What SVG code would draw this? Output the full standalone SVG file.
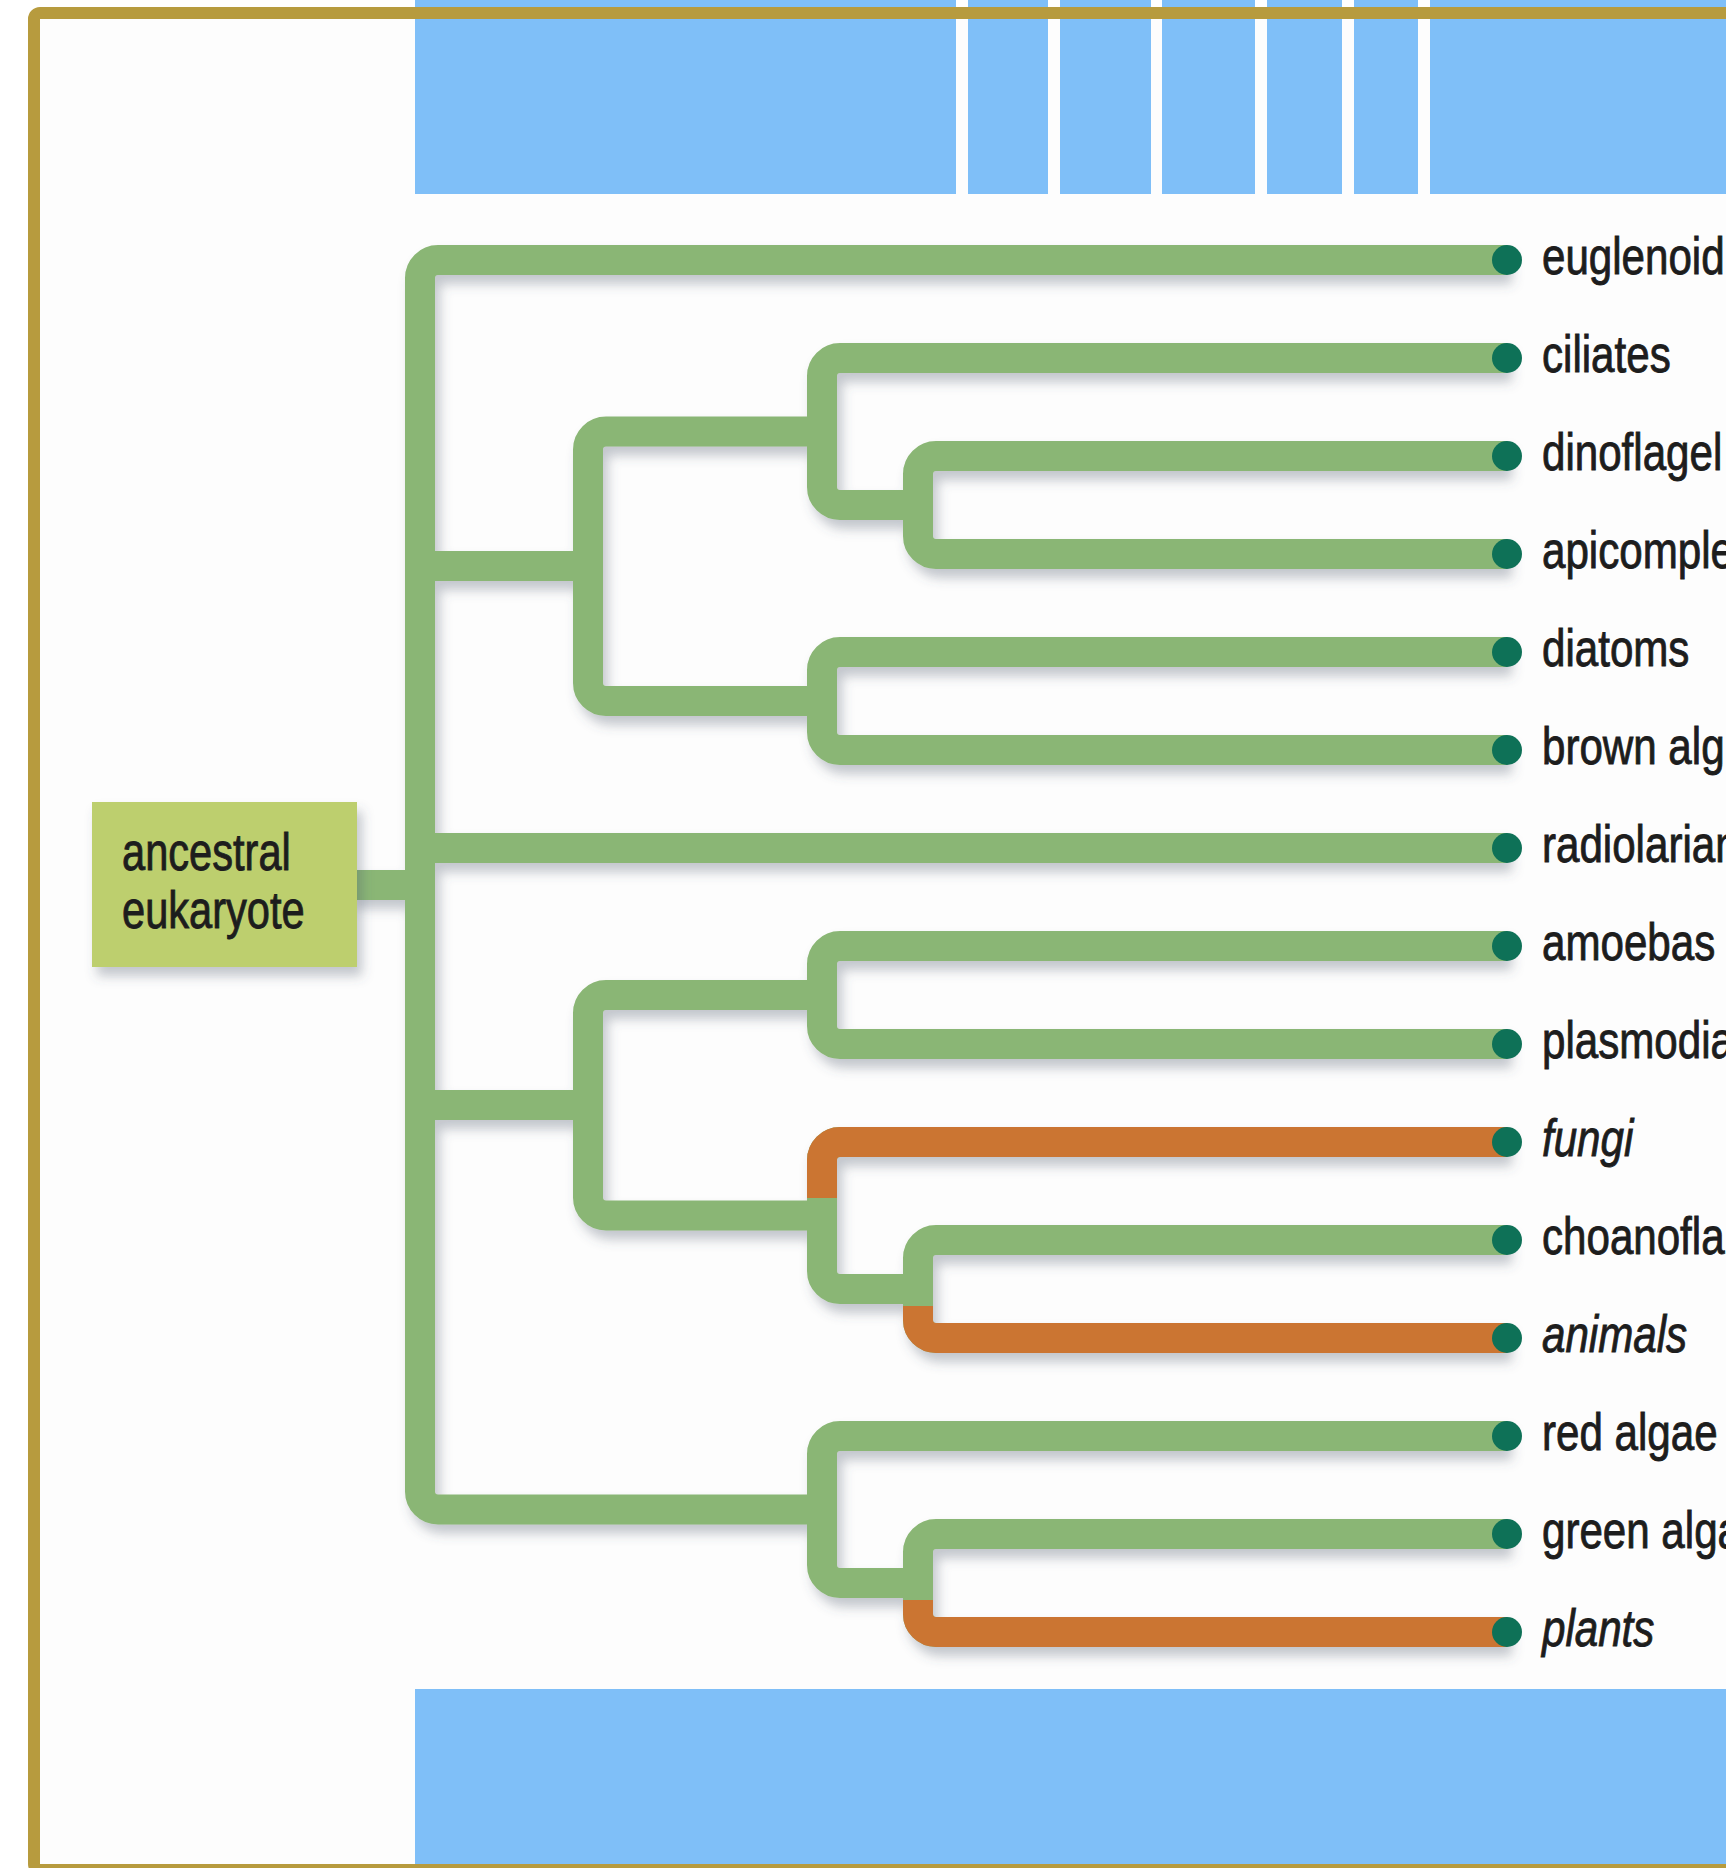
<svg xmlns="http://www.w3.org/2000/svg" width="1726" height="1868" viewBox="0 0 1726 1868">
<defs>
<filter id="sh" x="-10%" y="-10%" width="130%" height="130%">
<feDropShadow dx="5" dy="9" stdDeviation="6" flood-color="#4a5468" flood-opacity="0.33"/>
</filter>
<style>
.br{fill:none;stroke:#8AB674;stroke-width:30;stroke-linejoin:round}
.or{fill:none;stroke:#CB7431;stroke-width:30}
.dot{fill:#0E7157}
.lbl{font-family:"Liberation Sans",Arial,sans-serif;font-size:52px;fill:#1d1d1d;stroke:#1d1d1d;stroke-width:0.9px}
.it{font-style:italic}
.blue{fill:#7FBFF8}
</style>
</defs>
<rect x="0" y="0" width="1726" height="1868" fill="#ffffff"/>
<rect x="40" y="19" width="1700" height="1845" fill="#fdfdfd"/>

<g id="connectors" filter="url(#sh)">
<path class="br" d="M350,885 H420"/>
<path class="br" d="M1507,260 H438 A18,18 0 0 0 420,278 V1491.5 A18,18 0 0 0 438,1509.5 H822"/>
<path class="br" d="M420,848 H1507"/>
<path class="br" d="M420,566 H588"/>
<path class="br" d="M822,431.5 H606 A18,18 0 0 0 588,449.5 V683 A18,18 0 0 0 606,701 H822"/>
<path class="br" d="M1507,358 H840 A18,18 0 0 0 822,376 V487 A18,18 0 0 0 840,505 H918"/>
<path class="br" d="M1507,456 H936 A18,18 0 0 0 918,474 V536 A18,18 0 0 0 936,554 H1507"/>
<path class="br" d="M1507,652 H840 A18,18 0 0 0 822,670 V732 A18,18 0 0 0 840,750 H1507"/>
<path class="br" d="M420,1105 H588"/>
<path class="br" d="M822,995 H606 A18,18 0 0 0 588,1013 V1197.5 A18,18 0 0 0 606,1215.5 H822"/>
<path class="br" d="M1507,946 H840 A18,18 0 0 0 822,964 V1026 A18,18 0 0 0 840,1044 H1507"/>
<path class="br" d="M1507,1142 H840 A18,18 0 0 0 822,1160 V1271 A18,18 0 0 0 840,1289 H918"/>
<path class="br" d="M1507,1240 H936 A18,18 0 0 0 918,1258 V1320 A18,18 0 0 0 936,1338 H1507"/>
<path class="br" d="M1507,1436 H840 A18,18 0 0 0 822,1454 V1565 A18,18 0 0 0 840,1583 H918"/>
<path class="br" d="M1507,1534 H936 A18,18 0 0 0 918,1552 V1614 A18,18 0 0 0 936,1632 H1507"/>
<path class="or" d="M1507,1142 H840 A18,18 0 0 0 822,1160 V1198"/>
<path class="or" d="M918,1306 V1320 A18,18 0 0 0 936,1338 H1507"/>
<path class="or" d="M918,1600 V1614 A18,18 0 0 0 936,1632 H1507"/>
</g>

<g id="node-root" filter="url(#sh)">
<rect x="92" y="802" width="265" height="165" fill="#BDCF6E"/>
</g>
<g id="node-root-label">
<text class="lbl" transform="translate(122,870) scale(0.8,1)">ancestral</text>
<text class="lbl" transform="translate(122,928) scale(0.8,1)">eukaryote</text>
</g>

<g id="leaf-euglenoids"><circle class="dot" cx="1507" cy="260" r="15"/><text class="lbl" transform="translate(1542,274) scale(0.81,1)">euglenoid</text></g>
<g id="leaf-ciliates"><circle class="dot" cx="1507" cy="358" r="15"/><text class="lbl" transform="translate(1542,372) scale(0.81,1)">ciliates</text></g>
<g id="leaf-dinoflagellates"><circle class="dot" cx="1507" cy="456" r="15"/><text class="lbl" transform="translate(1542,470) scale(0.81,1)">dinoflagel</text></g>
<g id="leaf-apicomplexans"><circle class="dot" cx="1507" cy="554" r="15"/><text class="lbl" transform="translate(1542,568) scale(0.81,1)">apicomple</text></g>
<g id="leaf-diatoms"><circle class="dot" cx="1507" cy="652" r="15"/><text class="lbl" transform="translate(1542,666) scale(0.81,1)">diatoms</text></g>
<g id="leaf-brown-algae"><circle class="dot" cx="1507" cy="750" r="15"/><text class="lbl" transform="translate(1542,764) scale(0.81,1)">brown alg</text></g>
<g id="leaf-radiolarians"><circle class="dot" cx="1507" cy="848" r="15"/><text class="lbl" transform="translate(1542,862) scale(0.81,1)">radiolarian</text></g>
<g id="leaf-amoebas"><circle class="dot" cx="1507" cy="946" r="15"/><text class="lbl" transform="translate(1542,960) scale(0.81,1)">amoebas</text></g>
<g id="leaf-plasmodial"><circle class="dot" cx="1507" cy="1044" r="15"/><text class="lbl" transform="translate(1542,1058) scale(0.81,1)">plasmodia</text></g>
<g id="leaf-fungi"><circle class="dot" cx="1507" cy="1142" r="15"/><text class="lbl it" transform="translate(1542,1156) scale(0.81,1)">fungi</text></g>
<g id="leaf-choanoflagellates"><circle class="dot" cx="1507" cy="1240" r="15"/><text class="lbl" transform="translate(1542,1254) scale(0.81,1)">choanofla</text></g>
<g id="leaf-animals"><circle class="dot" cx="1507" cy="1338" r="15"/><text class="lbl it" transform="translate(1542,1352) scale(0.81,1)">animals</text></g>
<g id="leaf-red-algae"><circle class="dot" cx="1507" cy="1436" r="15"/><text class="lbl" transform="translate(1542,1450) scale(0.81,1)">red algae</text></g>
<g id="leaf-green-algae"><circle class="dot" cx="1507" cy="1534" r="15"/><text class="lbl" transform="translate(1542,1548) scale(0.81,1)">green alga</text></g>
<g id="leaf-plants"><circle class="dot" cx="1507" cy="1632" r="15"/><text class="lbl it" transform="translate(1542,1646) scale(0.81,1)">plants</text></g>

<g id="redactions">
<rect class="blue" x="415" y="0" width="541" height="194"/>
<rect class="blue" x="968" y="0" width="80" height="194"/>
<rect class="blue" x="1060" y="0" width="91" height="194"/>
<rect class="blue" x="1162" y="0" width="93" height="194"/>
<rect class="blue" x="1267" y="0" width="75" height="194"/>
<rect class="blue" x="1354" y="0" width="64" height="194"/>
<rect class="blue" x="1430" y="0" width="296" height="194"/>
<rect class="blue" x="415" y="1689" width="1311" height="179"/>
</g>

<rect id="frame" x="34" y="13" width="1740" height="1857" rx="6" fill="none" stroke="#B79B3E" stroke-width="12"/>
</svg>
